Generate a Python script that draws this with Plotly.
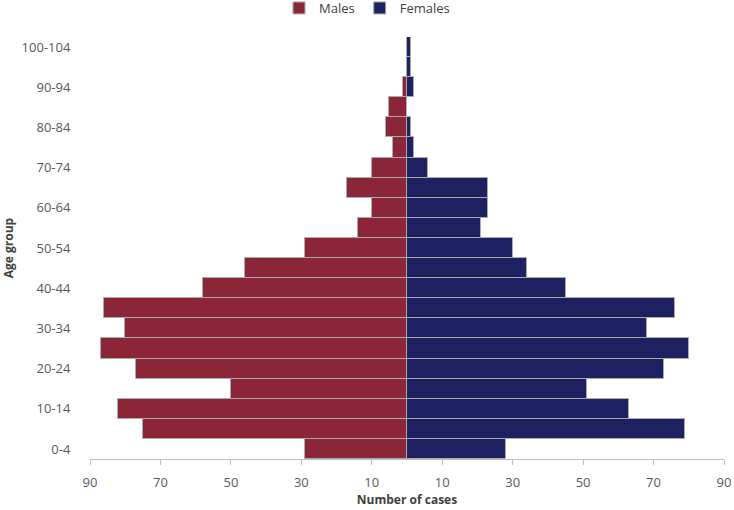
import plotly.graph_objects as go

age_groups = ["0-4", "5-9", "10-14", "15-19", "20-24", "25-29", "30-34", "35-39",
              "40-44", "45-49", "50-54", "55-59", "60-64", "65-69", "70-74", "75-79",
              "80-84", "85-89", "90-94", "95-99", "100-104"]
males = [29, 75, 82, 50, 77, 87, 80, 86, 58, 46, 29, 14, 10, 17, 10, 4, 6, 5, 1, 0, 0]
females = [28, 79, 63, 51, 73, 80, 68, 76, 45, 34, 30, 21, 23, 23, 6, 2, 1, 0, 2, 1, 1]
y_tick_labels = ["0-4", "10-14", "20-24", "30-34", "40-44", "50-54", "60-64",
                 "70-74", "80-84", "90-94", "100-104"]
x_tick_values = [-90, -70, -50, -30, -10, 10, 30, 50, 70, 90]
x_tick_text = [str(abs(v)) for v in x_tick_values]

FONT = "Open Sans, Liberation Sans, sans-serif"

fig = go.Figure()
fig.add_trace(go.Bar(
    y=age_groups, x=[-v for v in males], orientation="h", name="Males",
    marker=dict(color="#8B2538", line=dict(color="#ababab", width=1)),
    customdata=males, hovertemplate="%{y}: %{customdata}<extra>Males</extra>",
))
fig.add_trace(go.Bar(
    y=age_groups, x=females, orientation="h", name="Females",
    marker=dict(color="#1D2061", line=dict(color="#ababab", width=1)),
))

fig.update_layout(
    width=734, height=510,
    margin=dict(l=90, r=10, t=37, b=51, autoexpand=False),
    barmode="relative", bargap=0,
    plot_bgcolor="white", paper_bgcolor="white",
    font=dict(family=FONT, size=12, color="#595959"),
    legend=dict(orientation="h", x=0.5, xanchor="center", xref="container",
                y=1.0687, yanchor="middle", yref="paper",
                font=dict(size=13, color="#404040"),
                itemwidth=30, traceorder="normal",
                bgcolor="rgba(0,0,0,0)"),
    showlegend=True,
)

fig.update_xaxes(
    range=[-90, 90], tickvals=x_tick_values, ticktext=x_tick_text,
    showgrid=False, zeroline=False,
    showline=True, linecolor="#bfbfbf", linewidth=1,
    ticks="outside", ticklen=5, tickcolor="#bfbfbf",
    ticklabelstandoff=6,
    tickfont=dict(size=13, color="#595959"),
    title=dict(text="<b>Number of cases</b>", font=dict(size=12, color="#404040"), standoff=6),
)
fig.update_yaxes(
    type="category", categoryorder="array", categoryarray=age_groups,
    tickvals=y_tick_labels, ticktext=y_tick_labels,
    showgrid=False, zeroline=False, showline=False,
    ticks="outside", ticklen=16, tickcolor="rgba(0,0,0,0)",
    tickfont=dict(size=13, color="#595959"),
    range=[-0.5, len(age_groups) - 0.5],
    title=dict(text="<b>Age group</b>", font=dict(size=12, color="#404040"), standoff=8),
)

fig.write_html("out.html", config={"displayModeBar": False},
               post_script="document.body.style.margin='0px';")
